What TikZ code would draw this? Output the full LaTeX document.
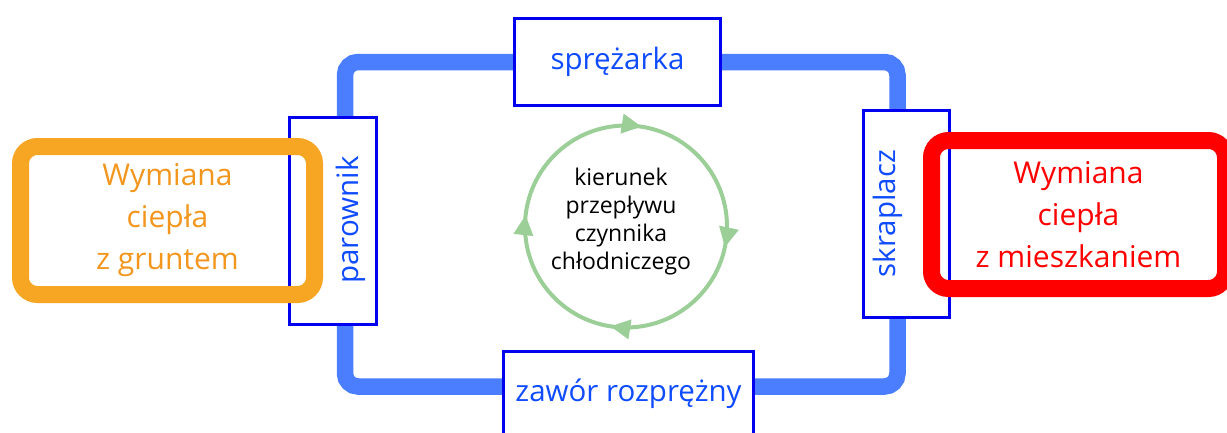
\documentclass[tikz,border=0pt]{standalone}
\usepackage{fontspec}
\setmainfont{Open Sans}
\usepackage{tikz}
\usetikzlibrary{positioning,arrows.meta,decorations.markings,backgrounds}
\definecolor{pipeblue}{RGB}{74,126,255}
\definecolor{boxblue}{RGB}{0,0,240}
\definecolor{textblue}{RGB}{15,75,255}
\definecolor{ground}{RGB}{246,166,35}
\definecolor{groundtext}{RGB}{242,150,30}
\definecolor{flowgreen}{RGB}{155,207,151}

\begin{document}
\begin{tikzpicture}[x=1pt,y=-1pt]
\tikzstyle{every node}+=[inner sep=0pt]
\tikzstyle{part}=[draw=boxblue,line width=3pt,fill=white,text=textblue,font=\fontsize{29.5}{35}\selectfont]
\tikzstyle{partlabel}=[text=textblue,rotate=90,font=\fontsize{29.5}{35}\selectfont]
\tikzstyle{exchange}=[line width=17pt,rounded corners=17pt,align=center,minimum width=294pt,minimum height=148pt,font=\fontsize{30}{42}\selectfont]
\tikzstyle{pipe}=[pipeblue,line width=16.5pt,rounded corners=13pt]
\tikzstyle{ring}=[flowgreen,line width=4pt,decoration={markings,
  mark=at position 0.033 with {\arrow{Triangle[length=20pt,width=19pt]}},
  mark=at position 0.275 with {\arrow{Triangle[length=20pt,width=19pt]}},
  mark=at position 0.518 with {\arrow{Triangle[length=20pt,width=19pt]}},
  mark=at position 0.775 with {\arrow{Triangle[length=20pt,width=19pt]}}},postaction=decorate]
\useasboundingbox (0,0) rectangle (1227,432);
\node[part,minimum width=206pt,minimum height=87pt] (spr) at (617.5,62) {sprężarka};
\node[part,minimum width=250pt,minimum height=83.5pt] (zaw) at (628.5,393.25) {zawór rozprężny};
\node[part,minimum width=87pt,minimum height=207pt] (par) at (333,221) {};
\node[partlabel] (parl) at (351,220) {parownik};
\node[part,minimum width=86pt,minimum height=207pt] (skr) at (906.5,214) {};
\node[partlabel] (skrl) at (887.5,213.5) {skraplacz};
\begin{scope}[on background layer]
\draw[pipe] (spr.west) -| ([xshift=12pt]par.north);
\draw[pipe] ([xshift=12pt]par.south) |- ([yshift=6.75pt]zaw.west);
\draw[pipe] ([yshift=6.75pt]zaw.east) -| ([xshift=-9pt]skr.south);
\draw[pipe] ([xshift=-9pt]skr.north) |- (spr.east);
\end{scope}
\node[exchange,draw=ground,text=groundtext] (grunt) at (167.5,220.5) {Wymiana\\ciepła\\z gruntem};
\node[exchange,draw=red,text=red] (dom) at (1078.5,214.5) {Wymiana\\ciepła\\z mieszkaniem};
\coordinate (mid) at (626,226.5);
\draw[ring] (mid) circle [radius=101];
\node[align=center,font=\fontsize{23}{27.7}\selectfont] (kier) at (621,221.5) {kierunek\\przepływu\\czynnika\\chłodniczego};
\end{tikzpicture}
\end{document}
